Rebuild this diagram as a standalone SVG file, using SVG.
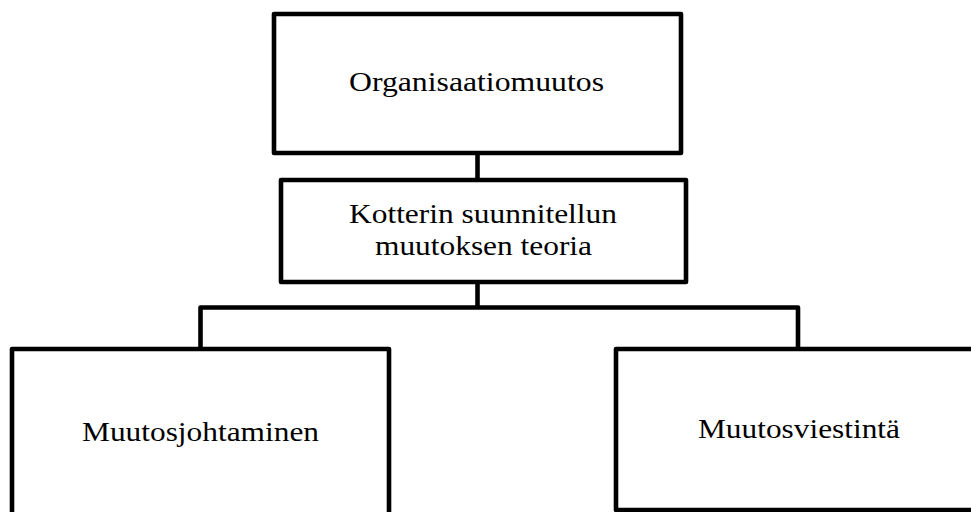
<svg xmlns="http://www.w3.org/2000/svg" width="971" height="512" viewBox="0 0 971 512">
<style>
.box{fill:#fff;stroke:#000;stroke-width:4.6;stroke-linejoin:round}
.conn{fill:none;stroke:#000;stroke-width:4.6;stroke-linejoin:round}
.lbl{font-family:"Liberation Serif","DejaVu Serif",serif;font-size:28px;fill:#000;text-anchor:middle}
</style>
<rect width="971" height="512" fill="#fff"/>
<g id="connectors">
<line class="conn" x1="477.5" y1="153" x2="477.5" y2="180"/>
<line class="conn" x1="477.5" y1="282" x2="477.5" y2="307.5"/>
<polyline class="conn" points="200.5,349 200.5,307.5 798,307.5 798,349"/>
</g>
<g id="node-organisaatiomuutos">
<rect class="box" x="274" y="14" width="407" height="139"/>
<text class="lbl" x="476.5" y="90.5" textLength="255" lengthAdjust="spacingAndGlyphs">Organisaatiomuutos</text>
</g>
<g id="node-kotter">
<rect class="box" x="281" y="180" width="405" height="102"/>
<text class="lbl" x="483" y="223" textLength="268" lengthAdjust="spacingAndGlyphs">Kotterin suunnitellun</text>
<text class="lbl" x="483.5" y="255" textLength="217" lengthAdjust="spacingAndGlyphs">muutoksen teoria</text>
</g>
<g id="node-muutosjohtaminen">
<rect class="box" x="12" y="349" width="377" height="180"/>
<text class="lbl" x="200.5" y="441" textLength="237" lengthAdjust="spacingAndGlyphs">Muutosjohtaminen</text>
</g>
<g id="node-muutosviestinta">
<rect class="box" x="616" y="349" width="370" height="161"/>
<text class="lbl" x="799" y="438" textLength="202" lengthAdjust="spacingAndGlyphs">Muutosviestintä</text>
</g>
</svg>
